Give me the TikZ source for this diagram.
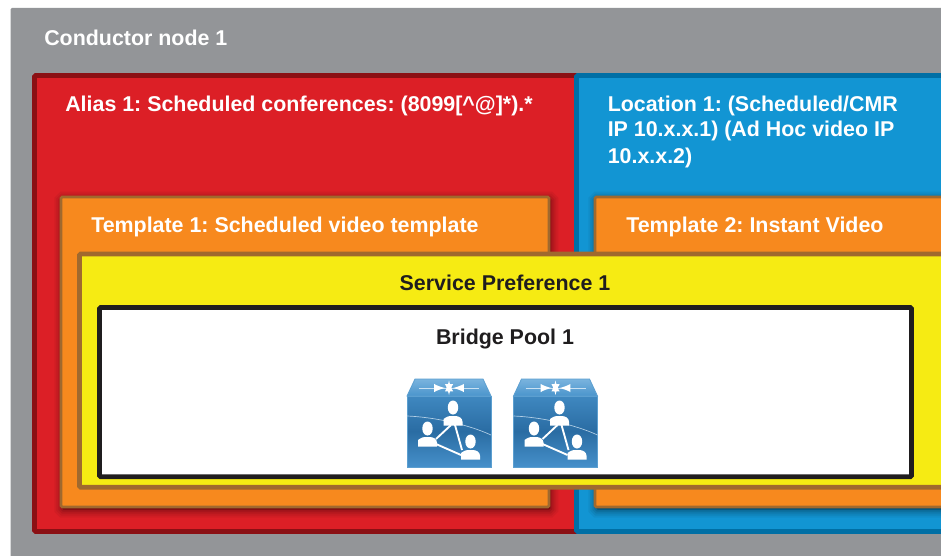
\documentclass[tikz,border=0pt]{standalone}
\usepackage{fontspec}
\setmainfont{Liberation Sans}
\usepackage{xcolor}
\usepackage{tikz}
\usetikzlibrary{shadows}

\definecolor{nodegray}{HTML}{939598}
\definecolor{aliasred}{HTML}{DC1F26}
\definecolor{aliasdark}{HTML}{8B1014}
\definecolor{locblue}{HTML}{1295D3}
\definecolor{locdark}{HTML}{006FA5}
\definecolor{tmplorange}{HTML}{F7891E}
\definecolor{tmplbrown}{HTML}{A0692E}
\definecolor{prefyellow}{HTML}{F6EB13}
\definecolor{poolblack}{HTML}{1F1D1E}
\definecolor{mcutop}{HTML}{7AB4DE}
\definecolor{mcutoplow}{HTML}{4A94CC}
\definecolor{mcuface}{HTML}{3F88C0}
\definecolor{mcumid}{HTML}{2A6CA3}
\definecolor{mculow}{HTML}{4690CA}
\definecolor{mcuedge}{HTML}{5C9FD0}

\tikzset{
	person/.pic={
		\fill [white] (0,-8.5) ellipse (5.2 and 7);
		\fill [white] (-9.5,9.5) -- (-9.5,3) [rounded corners=2pt] -- (-5,0) -- (5,0) -- (9.5,3) [sharp corners] -- (9.5,9.5) -- cycle;
	},
	mcu/.pic={
		% top face and front face
		\path [draw=mcuedge, line width=0.6pt, top color=mcutop, bottom color=mcutoplow]
			(0,0) -- (8,-17) -- (76,-17) -- (84,0) -- cycle;
		\path [draw=mcuedge, line width=0.6pt, top color=mcuface, bottom color=mculow, middle color=mcumid]
			(0,0) rectangle (84,71);
		% switching arrows on top
		\draw [white!60!mcutop, line width=0.7pt] (12,-8) -- (72,-8);
		\draw [white, line width=1.8pt, -latex] (42,-9) -- (42,-15.5);
		\draw [white, line width=1.8pt, -latex] (42,-7) -- (42,-1);
		\draw [white, line width=1.8pt, -latex] (28,-8) -- (38,-8);
		\draw [white, line width=1.8pt, -latex] (56,-8) -- (46,-8);
		% thin arc
		\draw [white!60!mcuface, line width=0.5pt] (0,20) .. controls (26,21) and (60,28) .. (84,39);
		% links and people
		\draw [white, line width=1.4pt] (29,43) -- (44,29) (29,48) -- (54,59) (48,29) -- (55,54);
		\pic at (46,20) {person};
		\pic at (20.5,41) {person};
		\pic at (63.5,54) {person};
	}
}

\begin{document}
\begin{tikzpicture}[x=0.75pt, y=-0.75pt]
	\tikzstyle{region} = [rectangle, anchor=north west, inner sep=0pt, outer sep=0pt, rounded corners=1pt]
	\tikzstyle{softshadow} = [
	general shadow={shadow xshift=1pt, shadow yshift=-2pt, draw=black, fill=black, opacity=0.10, line width=3pt},
	general shadow={shadow xshift=1pt, shadow yshift=-2pt, draw=black, fill=black, opacity=0.08, line width=6pt},
	general shadow={shadow xshift=1pt, shadow yshift=-2pt, draw=black, fill=black, opacity=0.06, line width=9pt},
	general shadow={shadow xshift=1pt, shadow yshift=-2pt, draw=black, fill=black, opacity=0.05, line width=12pt}]
	\tikzstyle{boxtext} = [inner sep=0pt, font=\fontsize{16.05pt}{19pt}\selectfont\bfseries\frenchspacing]
	\path [use as bounding box, clip] (0,0) rectangle (941,556);
	% Place regions
	\node [region, fill=nodegray, minimum width=960pt, minimum height=420pt] (conductor) at (10.5,8) {};
	\node [region, fill=aliasred, draw=aliasdark, line width=3.6pt, minimum width=409pt, minimum height=342pt] (alias) at (34.5,75.5) {};
	\node [region, fill=locblue, draw=locdark, line width=3.6pt, minimum width=400pt, minimum height=342pt] (location) at (576.5,75.5) {};
	\node [region, softshadow, fill=tmplorange, draw=tmplbrown, line width=2pt, minimum width=366pt, minimum height=232.5pt] (templateone) at (61,197) {};
	\node [region, softshadow, fill=tmplorange, draw=tmplbrown, line width=2pt, minimum width=300pt, minimum height=232.5pt] (templatetwo) at (595,197) {};
	\node [region, fill=prefyellow, draw=tmplbrown, line width=3.6pt, minimum width=700pt, minimum height=175pt] (preference) at (79.5,254) {};
	\node [region, fill=white, draw=poolblack, line width=3.6pt, minimum width=609pt, minimum height=127pt] (pool) at (99.5,307.5) {};
	% Place icons
	\pic (mcuone) at (407,396) {mcu};
	\pic (mcutwo) at (513.5,396) {mcu};
	% Place labels
	\node [boxtext, white, anchor=base west] (conductortext) at (44,46) {Conductor node 1};
	\node [boxtext, white, anchor=base west] (aliastext) at (65,112) {Alias 1: Scheduled conferences: (8099[\^{}@]*).*};
	\node [boxtext, white, anchor=base west] (locationtext) at (607.5,112) {Location 1: (Scheduled/CMR};
	\node [boxtext, white, anchor=base west] (locationtexttwo) at (607.5,137) {IP 10.x.x.1) (Ad Hoc video IP};
	\node [boxtext, white, anchor=base west] (locationtextthree) at (607.5,163) {10.x.x.2)};
	\node [boxtext, white, anchor=base west] (templateonetext) at (91,232) {Template 1: Scheduled video template};
	\node [boxtext, white, anchor=base west] (templatetwotext) at (626,232) {Template 2: Instant Video};
	\node [boxtext, poolblack, anchor=base] (preferencetext) at (505,290) {Service Preference 1};
	\node [boxtext, poolblack, anchor=base] (pooltext) at (505,344) {Bridge Pool 1};
\end{tikzpicture}
\end{document}
